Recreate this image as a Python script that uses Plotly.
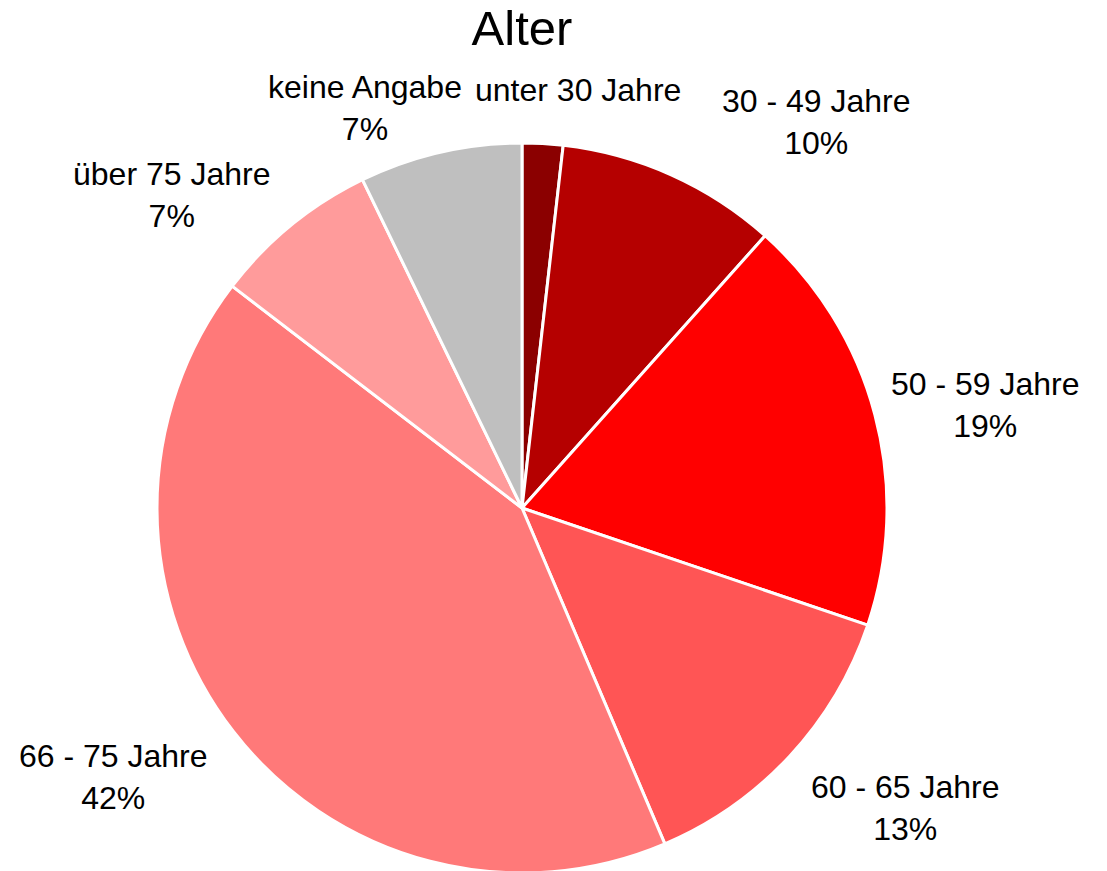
import math
import plotly.graph_objects as go

# Altersgruppen (Anteile in %), im Uhrzeigersinn ab 12 Uhr
labels = ["unter 30 Jahre", "30 - 49 Jahre", "50 - 59 Jahre", "60 - 65 Jahre",
          "66 - 75 Jahre", "über 75 Jahre", "keine Angabe"]
values = [1.8, 9.8, 18.6, 13.4, 41.8, 7.4, 7.2]
show_pct = [False, True, True, True, True, True, True]
colors = ["#8B0000", "#B50000", "#FF0000", "#FF5555", "#FF7979", "#FF9B9B", "#BFBFBF"]

# label offset from the slice's mid-angle point on the rim (px, right / up)
label_shift = [(35, 54), (145, 53), (111, 10), (116, -52), (-120, -45), (-120, 30), (-75, 44)]

W, H = 1107, 871
OFF = 8          # page body margin of the html file
R = 365
CX = 522 - OFF   # pie centre inside the figure (px from left)
CY = 508 - OFF   # (px from top)
FONT = "Liberation Sans, Arial"

fig = go.Figure(go.Pie(
    labels=labels,
    values=values,
    textinfo="none",
    sort=False,
    direction="clockwise",
    rotation=0,
    marker=dict(colors=colors, line=dict(color="white", width=3)),
    domain=dict(x=[(CX - R) / W, (CX + R) / W],
                y=[(H - CY - R) / H, (H - CY + R) / H]),
    showlegend=False,
    hoverinfo="label+percent",
))

# data labels, placed from each slice's mid angle
total = sum(values)
cum = 0
for lab, v, s, (dx, dy) in zip(labels, values, show_pct, label_shift):
    mid = 2 * math.pi * (cum + v / 2) / total
    cum += v
    px = CX + R * math.sin(mid)
    py = CY - R * math.cos(mid)
    txt = f"{lab}<br>{round(v / total * 100)}%" if s else lab
    fig.add_annotation(
        text=txt, x=px / W, y=1 - py / H, xref="paper", yref="paper",
        xanchor="center", yanchor="middle", xshift=dx, yshift=dy, showarrow=False,
        font=dict(family=FONT, size=32, color="black"),
    )

fig.update_layout(
    width=W, height=H,
    margin=dict(l=0, r=0, t=0, b=0),
    paper_bgcolor="white",
    plot_bgcolor="white",
    title=dict(text="Alter", x=CX / W, xanchor="center", y=1 - (28 - OFF) / H, yanchor="middle",
               font=dict(family=FONT, size=49, color="black")),
)

fig.write_html("out.html")
